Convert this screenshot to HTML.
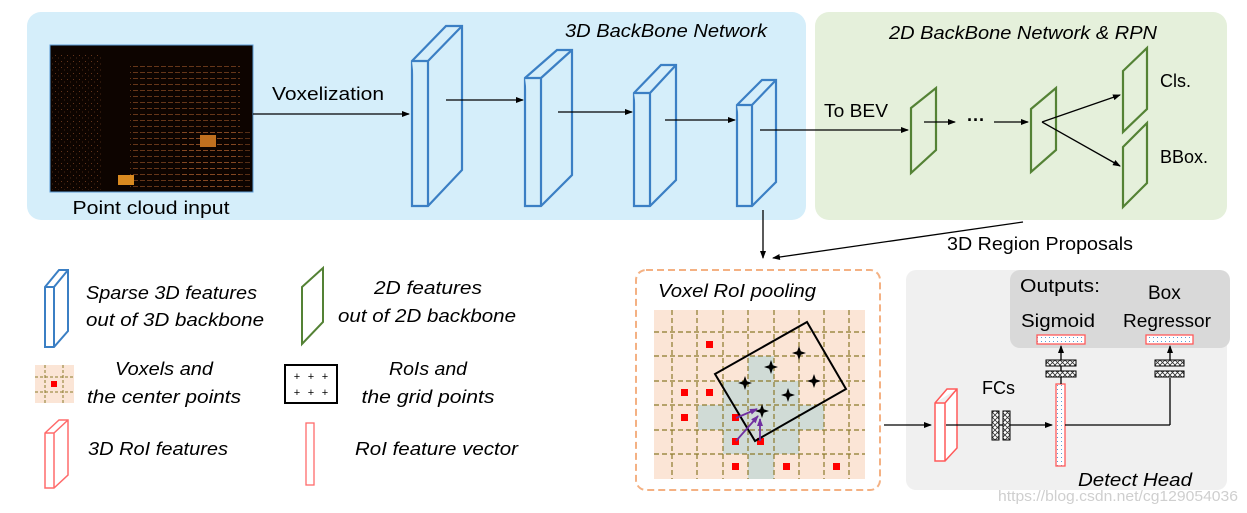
<!DOCTYPE html>
<html><head><meta charset="utf-8"><style>
html,body{margin:0;padding:0;background:#fff;}
svg{display:block;font-family:"Liberation Sans",sans-serif;}
</style></head><body>
<svg width="1247" height="513" viewBox="0 0 1247 513" xmlns="http://www.w3.org/2000/svg">
<defs>
<marker id="ah" markerWidth="8" markerHeight="8" refX="7" refY="4" orient="auto" markerUnits="userSpaceOnUse"><path d="M0,1 L8,4 L0,7 Z" fill="#000"/></marker>
<marker id="ahp" markerWidth="8" markerHeight="8" refX="7" refY="4" orient="auto" markerUnits="userSpaceOnUse"><path d="M0,1 L8,4 L0,7 Z" fill="#7030a0"/></marker>
<pattern id="scan" width="7" height="6" patternUnits="userSpaceOnUse"><rect x="0" y="0" width="5" height="1" fill="#a0582a"/></pattern>
<pattern id="speck" width="6" height="6" patternUnits="userSpaceOnUse"><rect x="1" y="1" width="1" height="1" fill="#7a4020"/><rect x="4" y="3.5" width="1" height="1" fill="#5a3018"/></pattern>
<pattern id="dots" width="4" height="4" patternUnits="userSpaceOnUse"><rect width="4" height="4" fill="#fff"/><rect x="1" y="1" width="1" height="1" fill="#5b9bd5"/></pattern>
<pattern id="hatch" width="5" height="5" patternUnits="userSpaceOnUse"><rect width="5" height="5" fill="#fff"/><path d="M0,5 L5,0 M0,0 L5,5" stroke="#333" stroke-width="0.8"/></pattern>
</defs>

<rect x="27" y="12" width="779" height="208" rx="14" fill="#d5eefa"/>
<text x="565" y="37" font-size="18" font-style="italic" textLength="202" lengthAdjust="spacingAndGlyphs">3D BackBone Network</text>
<rect x="50" y="45" width="203" height="147" fill="#0d0400" stroke="#5b9bd5" stroke-width="1"/>
<rect x="51" y="55" width="50" height="135" fill="url(#speck)" opacity="0.8"/>
<rect x="130" y="62" width="110" height="128" fill="url(#scan)" opacity="0.6"/>
<rect x="180" y="130" width="70" height="60" fill="url(#scan)" opacity="0.5"/>
<rect x="200" y="135" width="16" height="12" fill="#c0701f"/>
<rect x="118" y="175" width="16" height="10" fill="#d98a20"/>
<text x="151" y="214" font-size="18" text-anchor="middle" textLength="157" lengthAdjust="spacingAndGlyphs">Point cloud input</text>
<text x="272" y="100" font-size="18" textLength="112" lengthAdjust="spacingAndGlyphs">Voxelization</text>
<line x1="253" y1="114" x2="409" y2="114" stroke="#000" stroke-width="1.3" marker-end="url(#ah)"/>
<g fill="#d5eefa" stroke="#3b7fc4" stroke-width="2.2" stroke-linejoin="miter">
<path d="M412,61 L446,26 L462,26 L462,170 L428,206 L412,206 Z"/><path d="M412,61 L428,61 L428,206 M428,61 L462,26"/>
<path d="M525,78 L557,50 L572,50 L572,175 L541,206 L525,206 Z"/><path d="M525,78 L541,78 L541,206 M541,78 L572,50"/>
<path d="M634,93 L661,65 L676,65 L676,180 L650,206 L634,206 Z"/><path d="M634,93 L650,93 L650,206 M650,93 L676,65"/>
<path d="M737,105 L762,80 L776,80 L776,182 L752,206 L737,206 Z"/><path d="M737,105 L752,105 L752,206 M752,105 L776,80"/>
</g>
<line x1="446" y1="100" x2="523" y2="100" stroke="#000" stroke-width="1.3" marker-end="url(#ah)"/>
<line x1="558" y1="112" x2="632" y2="112" stroke="#000" stroke-width="1.3" marker-end="url(#ah)"/>
<line x1="665" y1="120" x2="735" y2="120" stroke="#000" stroke-width="1.3" marker-end="url(#ah)"/>

<rect x="815" y="12" width="412" height="208" rx="14" fill="#e5f0db"/>
<text x="889" y="39" font-size="18" font-style="italic" textLength="268" lengthAdjust="spacingAndGlyphs">2D BackBone Network &amp; RPN</text>
<line x1="760" y1="130" x2="908" y2="130" stroke="#000" stroke-width="1.3" marker-end="url(#ah)"/>
<text x="824" y="117" font-size="18" textLength="64" lengthAdjust="spacingAndGlyphs">To BEV</text>
<g fill="none" stroke="#548235" stroke-width="2.2">
<path d="M911,108 L936,88 L936,150 L911,173 Z"/>
<path d="M1031,109 L1056,88 L1056,150 L1031,172 Z"/>
<path d="M1123,71 L1147,48 L1147,109 L1123,132 Z"/>
<path d="M1123,147 L1147,123 L1147,183 L1123,207 Z"/>
</g>
<line x1="924" y1="122" x2="955" y2="122" stroke="#000" stroke-width="1.3" marker-end="url(#ah)"/>
<text x="967" y="126" font-size="18" font-weight="bold">···</text>
<line x1="994" y1="122" x2="1028" y2="122" stroke="#000" stroke-width="1.3" marker-end="url(#ah)"/>
<line x1="1042" y1="122" x2="1120" y2="95" stroke="#000" stroke-width="1.3" marker-end="url(#ah)"/>
<line x1="1042" y1="122" x2="1120" y2="166" stroke="#000" stroke-width="1.3" marker-end="url(#ah)"/>
<text x="1160" y="87" font-size="18">Cls.</text>
<text x="1160" y="163" font-size="18">BBox.</text>

<line x1="763" y1="210" x2="763" y2="258" stroke="#000" stroke-width="1.3" marker-end="url(#ah)"/>
<line x1="1023" y1="222" x2="773" y2="258" stroke="#000" stroke-width="1.3" marker-end="url(#ah)"/>
<text x="947" y="250" font-size="18" textLength="186" lengthAdjust="spacingAndGlyphs">3D Region Proposals</text>

<rect x="636" y="270" width="244" height="220" rx="10" fill="#fff" stroke="#f4b183" stroke-width="2" stroke-dasharray="7,4"/>
<text x="658" y="297" font-size="18" font-style="italic" textLength="158" lengthAdjust="spacingAndGlyphs">Voxel RoI pooling</text>
<rect x="654" y="310" width="211" height="169" fill="#fbe5d6"/>
<g fill="#d0dbd6">
<rect x="748" y="356" width="26" height="123"/>
<rect x="723" y="381" width="76" height="73"/>
<rect x="698" y="405" width="126" height="25"/>
</g>
<g stroke="#8b7a2b" stroke-width="1.2" stroke-dasharray="5,3">
<line x1="672" y1="310" x2="672" y2="479"/><line x1="697" y1="310" x2="697" y2="479"/><line x1="723" y1="310" x2="723" y2="479"/><line x1="748" y1="310" x2="748" y2="479"/><line x1="774" y1="310" x2="774" y2="479"/><line x1="799" y1="310" x2="799" y2="479"/><line x1="824" y1="310" x2="824" y2="479"/><line x1="849" y1="310" x2="849" y2="479"/>
<line x1="654" y1="332" x2="865" y2="332"/><line x1="654" y1="356" x2="865" y2="356"/><line x1="654" y1="381" x2="865" y2="381"/><line x1="654" y1="405" x2="865" y2="405"/><line x1="654" y1="430" x2="865" y2="430"/><line x1="654" y1="454" x2="865" y2="454"/>
</g>
<g fill="#ff0000">
<rect x="706" y="341" width="7" height="7"/><rect x="681" y="389" width="7" height="7"/><rect x="706" y="389" width="7" height="7"/><rect x="681" y="414" width="7" height="7"/><rect x="732" y="414" width="7" height="7"/><rect x="732" y="438" width="7" height="7"/><rect x="757" y="438" width="7" height="7"/><rect x="732" y="463" width="7" height="7"/><rect x="783" y="463" width="7" height="7"/><rect x="833" y="463" width="7" height="7"/>
</g>
<path d="M715,374 L807,322 L846,389 L755,441 Z" fill="none" stroke="#000" stroke-width="2"/>
<g fill="#000">
<path id="st" d="M0,-7 L1.8,-1.8 L7,0 L1.8,1.8 L0,7 L-1.8,1.8 L-7,0 L-1.8,-1.8 Z" transform="translate(799,353)"/>
<use href="#st" transform="translate(-28,14)"/><use href="#st" transform="translate(-54,30)"/><use href="#st" transform="translate(15,28)"/><use href="#st" transform="translate(-11,42)"/><use href="#st" transform="translate(-37,58)"/>
</g>
<g stroke="#7030a0" stroke-width="1.8">
<line x1="736" y1="418" x2="757" y2="409" marker-end="url(#ahp)"/>
<line x1="736" y1="441" x2="758" y2="416" marker-end="url(#ahp)"/>
<line x1="760" y1="441" x2="760" y2="419" marker-end="url(#ahp)"/>
</g>

<rect x="906" y="270" width="321" height="220" rx="10" fill="#f0f0f0"/>
<rect x="1010" y="270" width="220" height="78" rx="10" fill="#d9d9d9"/>
<text x="1020" y="292" font-size="18" textLength="80" lengthAdjust="spacingAndGlyphs">Outputs:</text>
<text x="1148" y="299" font-size="19">Box</text>
<text x="1021" y="327" font-size="18" textLength="74" lengthAdjust="spacingAndGlyphs">Sigmoid</text>
<text x="1123" y="327" font-size="18" textLength="88" lengthAdjust="spacingAndGlyphs">Regressor</text>
<rect x="1037" y="335" width="48" height="9" fill="url(#dots)" stroke="#ff5a5a" stroke-width="1.3"/>
<rect x="1146" y="335" width="47" height="9" fill="url(#dots)" stroke="#ff5a5a" stroke-width="1.3"/>
<line x1="884" y1="425" x2="931" y2="425" stroke="#000" stroke-width="1.3" marker-end="url(#ah)"/>
<path d="M935,403 L947,389 L957,389 L957,448 L945,461 L935,461 Z M945,403 L945,461 M935,403 L945,403 L957,389" fill="#fff" stroke="#ff5a5a" stroke-width="1.5"/>
<text x="982" y="394" font-size="18">FCs</text>
<line x1="946" y1="425" x2="1052" y2="425" stroke="#000" stroke-width="1.3" marker-end="url(#ah)"/>
<rect x="992" y="411" width="7" height="29" fill="url(#hatch)" stroke="#000" stroke-width="1"/>
<rect x="1003" y="411" width="7" height="29" fill="url(#hatch)" stroke="#000" stroke-width="1"/>
<rect x="1056" y="384" width="9" height="82" fill="url(#dots)" stroke="#ff5a5a" stroke-width="1.3"/>
<line x1="1065" y1="425" x2="1170" y2="425" stroke="#000" stroke-width="1.3"/>
<line x1="1170" y1="425" x2="1170" y2="378" stroke="#000" stroke-width="1.3"/>
<line x1="1061" y1="384" x2="1061" y2="346" stroke="#000" stroke-width="1.3" marker-end="url(#ah)"/>
<line x1="1170" y1="360" x2="1170" y2="346" stroke="#000" stroke-width="1.3" marker-end="url(#ah)"/>
<rect x="1046" y="360" width="30" height="6" fill="url(#hatch)" stroke="#000" stroke-width="1"/>
<rect x="1046" y="371" width="30" height="6" fill="url(#hatch)" stroke="#000" stroke-width="1"/>
<rect x="1155" y="360" width="29" height="6" fill="url(#hatch)" stroke="#000" stroke-width="1"/>
<rect x="1155" y="371" width="29" height="6" fill="url(#hatch)" stroke="#000" stroke-width="1"/>
<text x="1078" y="486" font-size="18" font-style="italic" textLength="114" lengthAdjust="spacingAndGlyphs">Detect Head</text>
<text x="998" y="501" font-size="15" fill="#cfcfcf" textLength="240" lengthAdjust="spacingAndGlyphs">https://blog.csdn.net/cg129054036</text>

<path d="M45,287 L59,270 L68,270 L68,331 L54,347 L45,347 Z M54,287 L54,347 M45,287 L54,287 L68,270" fill="#fff" stroke="#3b7fc4" stroke-width="2"/>
<g font-size="18" font-style="italic">
<text x="86" y="299" textLength="171" lengthAdjust="spacingAndGlyphs">Sparse 3D features</text>
<text x="86" y="326" textLength="178" lengthAdjust="spacingAndGlyphs">out of 3D backbone</text>
<text x="428" y="294" text-anchor="middle" textLength="108" lengthAdjust="spacingAndGlyphs">2D features</text>
<text x="427" y="322" text-anchor="middle" textLength="178" lengthAdjust="spacingAndGlyphs">out of 2D backbone</text>
<text x="164" y="375" text-anchor="middle" textLength="98" lengthAdjust="spacingAndGlyphs">Voxels and</text>
<text x="164" y="403" text-anchor="middle" textLength="154" lengthAdjust="spacingAndGlyphs">the center points</text>
<text x="428" y="375" text-anchor="middle" textLength="78" lengthAdjust="spacingAndGlyphs">RoIs and</text>
<text x="428" y="403" text-anchor="middle" textLength="133" lengthAdjust="spacingAndGlyphs">the grid points</text>
<text x="88" y="455" textLength="140" lengthAdjust="spacingAndGlyphs">3D RoI features</text>
<text x="355" y="455" textLength="163" lengthAdjust="spacingAndGlyphs">RoI feature vector</text>
</g>
<path d="M302,287 L323,268 L323,322 L302,344 Z" fill="#fff" stroke="#548235" stroke-width="2"/>
<rect x="35" y="365" width="39" height="38" fill="#fbe5d6"/>
<g stroke="#8b7a2b" stroke-width="1" stroke-dasharray="3,2"><line x1="45" y1="365" x2="45" y2="403"/><line x1="63" y1="365" x2="63" y2="403"/><line x1="35" y1="377" x2="74" y2="377"/><line x1="35" y1="392" x2="74" y2="392"/></g>
<rect x="51" y="381" width="6" height="6" fill="#f00"/>
<rect x="285" y="365" width="52" height="38" fill="#fff" stroke="#000" stroke-width="2"/>
<g font-size="11" text-anchor="middle"><text x="297" y="380">+</text><text x="311" y="380">+</text><text x="325" y="380">+</text><text x="297" y="396">+</text><text x="311" y="396">+</text><text x="325" y="396">+</text></g>
<path d="M45,433 L59,420 L68,420 L68,475 L54,488 L45,488 Z M54,433 L54,488 M45,433 L54,433 L68,420" fill="#fff" stroke="#ff6b6b" stroke-width="1.5"/>
<rect x="306" y="423" width="8" height="62" fill="#fff" stroke="#ff6b6b" stroke-width="1.3"/>
</svg>
</body></html>
